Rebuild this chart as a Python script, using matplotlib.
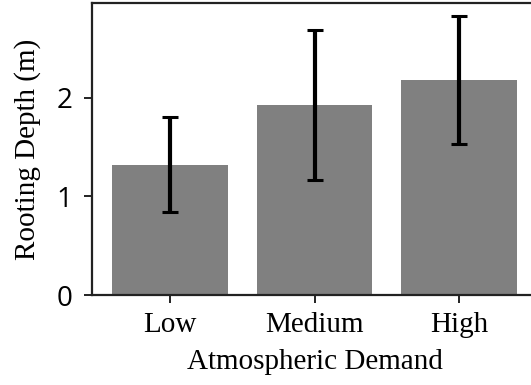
import numpy as np
import matplotlib
matplotlib.use('Agg')
import matplotlib.pyplot as plt

# Data
categories = ['Low', 'Medium', 'High']
depth_mean = [1.32, 1.93, 2.18]
depth_err = [0.48, 0.76, 0.645]

serif = ['Liberation Serif', 'DejaVu Serif']

fig = plt.figure(figsize=(5.31, 3.85), dpi=100)
# axes run off the right edge, as in the reference crop
ax = fig.add_axes([92 / 531, 90 / 385, 445 / 531, 292 / 385])

x = np.arange(len(categories))
ax.bar(x, depth_mean, width=0.8, color='gray',
       yerr=depth_err, capsize=5.5,
       error_kw=dict(ecolor='black', elinewidth=3, capthick=2.2))

ax.set_xlim(-0.54, 2.54)
ax.set_ylim(0, 2.96)
ax.set_yticks([0, 1, 2])
ax.set_xticks(x)
ax.set_xticklabels(categories, family=serif, fontsize=21)
for lab in ax.get_yticklabels():
    lab.set_family(['Open Sans', 'DejaVu Sans'])
    lab.set_fontsize(20)

ax.set_xlabel('Atmospheric Demand', family=serif, fontsize=21, labelpad=8)
ax.set_ylabel('Rooting Depth (m)', family=serif, fontsize=21, labelpad=11)

for sp in ax.spines.values():
    sp.set_linewidth(1.6)
    sp.set_color('#222222')
ax.tick_params(axis='x', length=6, width=1.4, color='#222222', pad=6)
ax.tick_params(axis='y', length=6, width=1.4, color='#222222', pad=8)

fig.savefig('out.png', dpi=100)
